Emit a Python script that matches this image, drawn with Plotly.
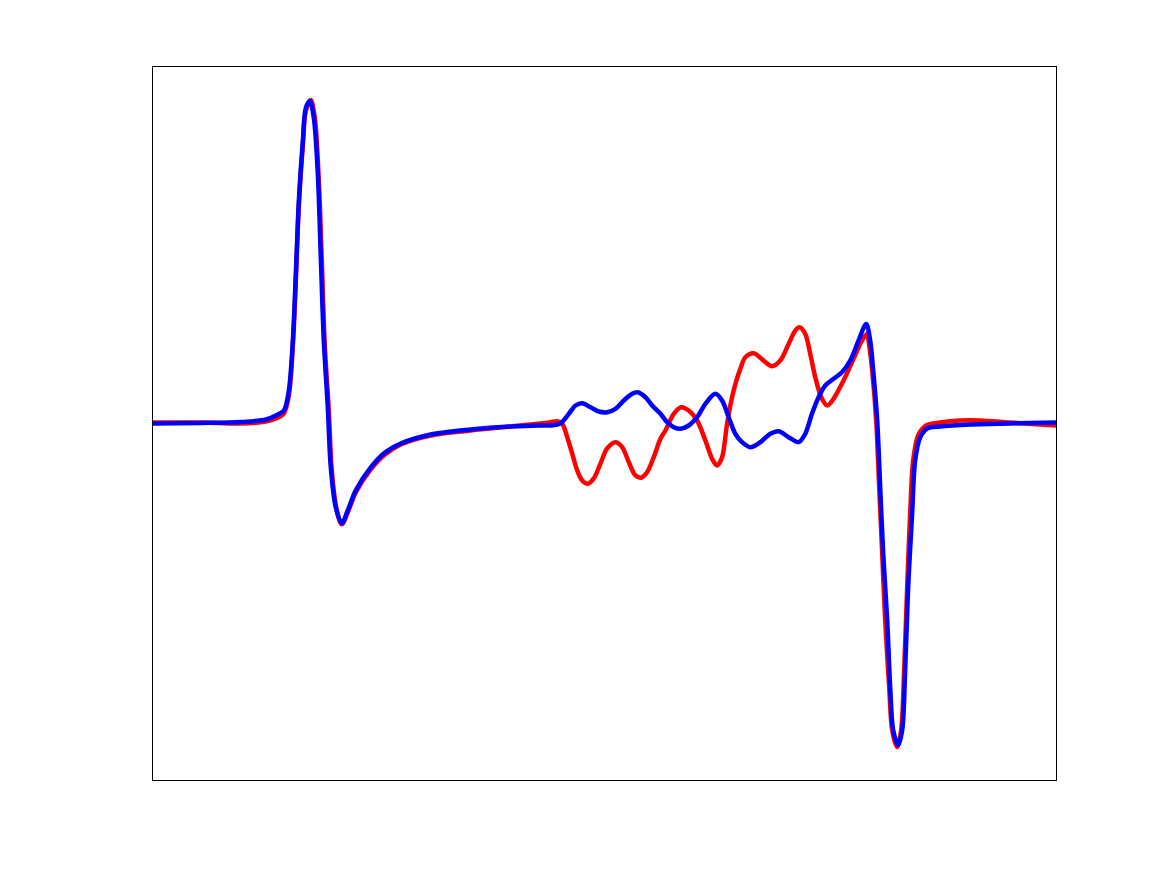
import plotly.graph_objs as go

# values (arbitrary units, x: 0..904, y: -357..357)
red_x = [0, 48, 88, 113, 123, 131, 136, 140, 143, 146, 150, 153, 158, 162, 166, 169, 172, 176, 179, 184,
         189, 195, 203, 218, 231, 248, 278, 318, 358, 388,
         398, 404.7, 409.7, 414.7, 419.7, 424.7, 429.7, 435.3, 441.3, 448, 454.7, 463, 469.7, 476.3, 483,
         488.7, 494.7, 501.3, 508, 513, 521.3, 528.7, 536.3, 544.7, 553, 559.7, 564.7, 569.7, 574.7, 579.7,
         584, 588, 593, 601.3, 611.3, 619.7, 628, 636.3, 643, 647.3, 653, 658, 663, 669.7, 675.3, 681.3,
         691.3, 701.3, 709.7, 714.7,
         717, 720, 724, 727, 730, 733, 737, 740, 745, 749, 752, 755, 758, 761, 766, 774, 788, 808,
         828, 858, 904]
red_y = [1, 1, 0, 2, 5, 10, 28, 78, 143, 218, 278, 313, 324, 306, 243, 163, 78, 13, -47, -87,
         -101, -89, -69, -46, -32, -21, -12, -7, -3, 0,
         1.3, 2.3, -0.3, -13.7, -30.3, -47, -57, -60.3, -55, -40, -25, -18.7, -23.7, -38.7, -52,
         -54.3, -48.7, -33.7, -15.3, -7, 9.7, 16.3, 13, 3, -17, -35.3, -42, -33.7, -0.3, 26.3,
         43, 54.7, 66.3, 70.3, 63, 57.3, 63, 79.7, 93, 96.3, 89.7, 69.7, 46.3, 24.7, 18, 24.7,
         43, 64.7, 83, 89.7,
         78, 53, 3, -64, -130, -197, -264, -307, -324, -307, -247, -164, -90, -37, -12, -2, 1, 3,
         3, 1, -2]

blue_x = [0, 48, 88, 113, 123, 131, 136, 140, 143, 146, 150, 153, 157, 161, 165, 168, 171, 175, 178, 183,
          189, 195, 203, 218, 231, 248, 278, 318, 358, 388,
          398, 408, 416.3, 423, 429.7, 438, 446.3, 454.7, 463, 471.3, 479.7, 485.3, 493, 499.7, 508,
          514.7, 521.3, 528, 536.3, 544.7, 553, 563, 569.7, 576.3, 583, 589.7, 598, 608, 618, 626.3,
          636.3, 646.3, 653, 659.7, 666.3, 673, 681.3, 689.7, 698, 706.3, 714,
          718, 721, 725, 728, 731, 735, 738, 741, 746, 750, 753, 756, 760, 763, 768, 775, 788, 818,
          858, 904]
blue_y = [0, 0.5, 1.5, 4, 8, 13, 33, 83, 150, 223, 283, 316, 323, 306, 250, 166, 83, 16, -44, -84,
          -100, -87, -67, -44, -30, -20, -11, -6, -3, -2,
          -2, 0.3, 9.7, 18, 20.3, 16.3, 12, 11.3, 14.7, 23, 29.7, 31.3, 26.3, 18, 9.7,
          1.3, -3.7, -5.3, -2, 6.3, 19.7, 29.7, 23, 6.3, -10.3, -18.7, -23.7, -18.7, -10.3, -7.7,
          -13.7, -18.7, -10.3, 9.7, 26.3, 38, 44.7, 51.3, 63, 83, 99.7,
          83, 53, 3, -64, -130, -197, -264, -307, -322, -307, -247, -164, -90, -37, -14, -5, -3, -1,
          0, 1]

assert len(red_x) == len(red_y)
assert len(blue_x) == len(blue_y)

trace = []
trace.append(go.Scatter(x=red_x, y=red_y, mode='lines', name='red',
                        line=dict(color='#ff0000', width=4.5, shape='spline', smoothing=0.9)))
trace.append(go.Scatter(x=blue_x, y=blue_y, mode='lines', name='blue',
                        line=dict(color='#0000ff', width=4.5, shape='spline', smoothing=0.9)))

axis_style = dict(showline=True, mirror=True, linecolor='black', linewidth=1,
                  showgrid=False, zeroline=False, ticks='', showticklabels=False)

layout = go.Layout(xaxis=dict(range=[0, 904], **axis_style),
                   yaxis=dict(range=[-357, 357], **axis_style),
                   width=1151, height=859,
                   margin=dict(l=145, r=103, t=59, b=87),
                   paper_bgcolor='white', plot_bgcolor='white',
                   showlegend=False)

fig = go.Figure(data=trace, layout=layout)
fig.write_html("out.html")
